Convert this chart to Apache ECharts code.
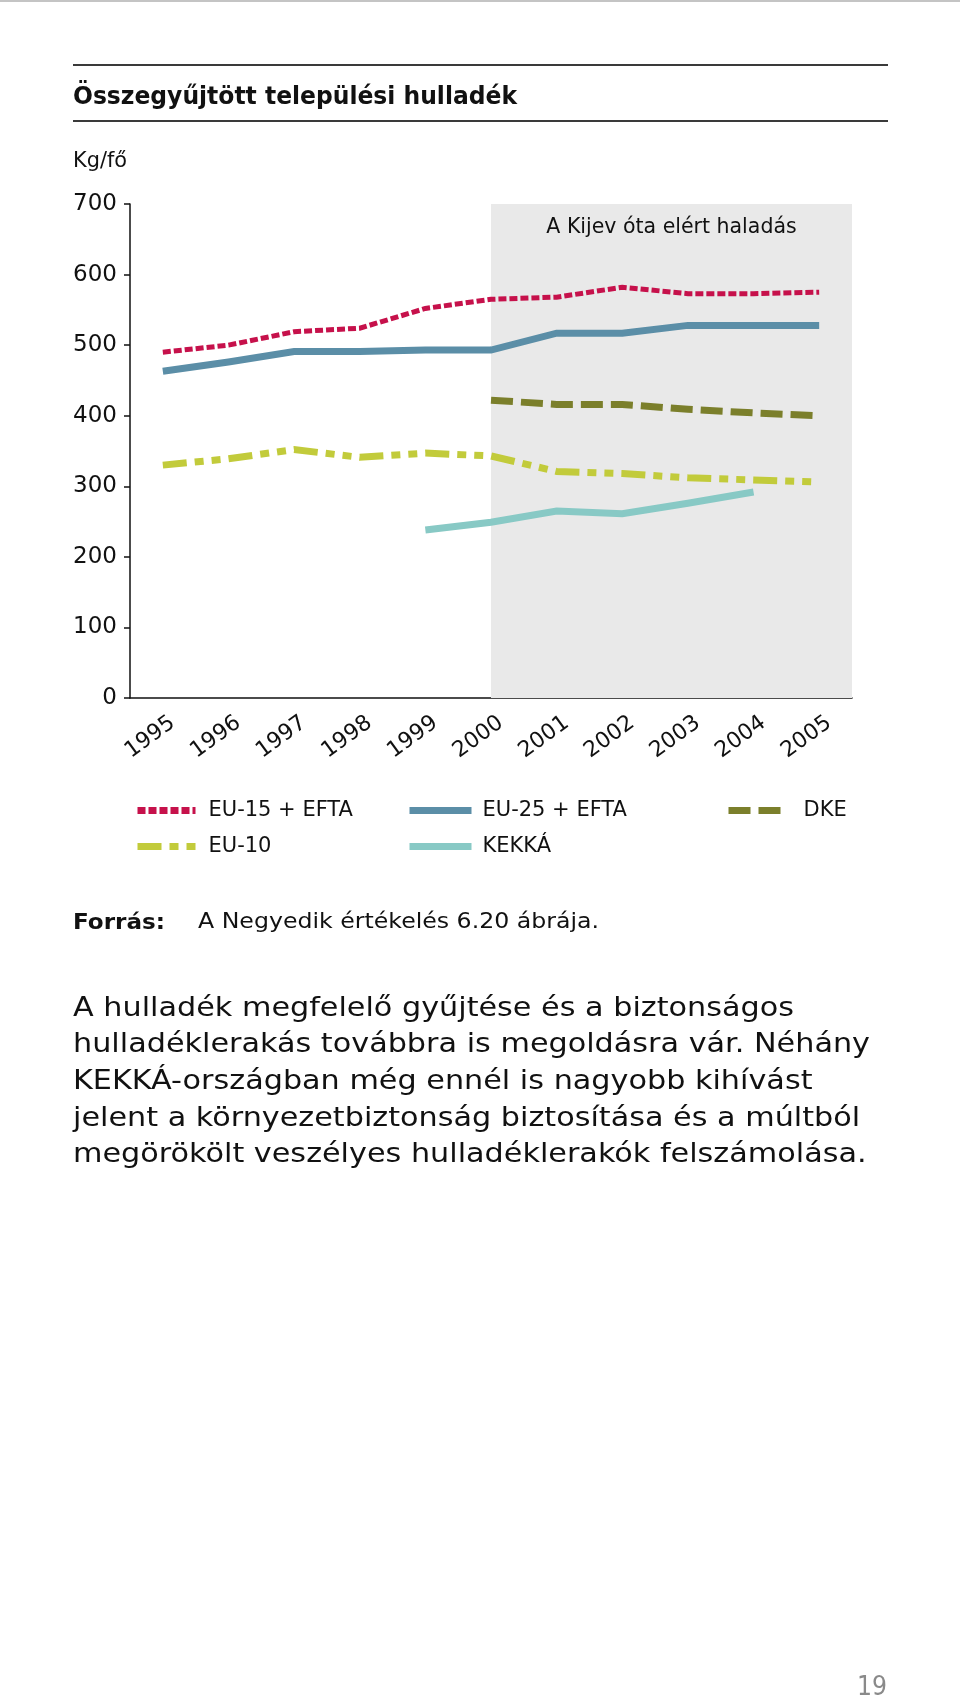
<!DOCTYPE html>
<html><head><meta charset="utf-8">
<script src="https://cdn.jsdelivr.net/npm/echarts@6/dist/echarts.min.js"></script>
<style>html,body{margin:0;padding:0;background:#fff}#c{width:960px;height:1702px}</style>
</head><body><div id="c"></div>
<script>
// ---- data ----
const years = ['1995','1996','1997','1998','1999','2000','2001','2002','2003','2004','2005'];
const eu15  = [490, 500, 519, 524, 552, 565, 568, 582, 573, 573, 575];
const eu25  = [463, 476, 491, 491, 493, 493, 517, 517, 528, 528, 528];
const dke   = [null, null, null, null, null, 422, 416, 416, 409, 404, 400];
const eu10  = [330, 339, 352, 341, 347, 343, 321, 318, 312, 309, 306];
const kekka = [null, null, null, null, 238, 249, 265, 261, 276, 292, null];
const seriesNames = ['EU-15 + EFTA', 'EU-25 + EFTA', 'DKE', 'EU-10', 'KEKKÁ'];
const progressStartYear = '2000';
const progressLabel = 'A Kijev óta elért haladás';
const titleText = 'Összegyűjtött települési hulladék';
const unitText = 'Kg/fő';
const sourceLabel = 'Forrás:';
const sourceText = 'A Negyedik értékelés 6.20 ábrája.';
const paragraph = [
  'A hulladék megfelelő gyűjtése és a biztonságos',
  'hulladéklerakás továbbra is megoldásra vár. Néhány',
  'KEKKÁ-országban még ennél is nagyobb kihívást',
  'jelent a környezetbiztonság biztosítása és a múltból',
  'megörökölt veszélyes hulladéklerakók felszámolása.'
];
const pageNumber = '19';

// ---- helpers ----
const F = "'DejaVu Sans', Verdana, sans-serif";
const mctx = document.createElement('canvas').getContext('2d');
function measure(str, size, weight) {
  mctx.font = weight + ' ' + size + 'px ' + F;
  return mctx.measureText(str).width;
}
function txt(str, x, y, size, weight, sx, color) {
  return {type: 'text', x: x, y: y, scaleX: sx, silent: true,
    style: {text: str, fontFamily: F, fontSize: size, fontWeight: weight, fill: color || '#111',
      align: 'left', verticalAlign: 'middle'}};
}
function fit(str, x, y, size, weight, target, color) {
  return txt(str, x, y, size, weight, target / measure(str, size, weight), color);
}

const pSize = 27;
const pScale = 797 / measure(paragraph[1], pSize, 'normal');
const graphics = [
  {type: 'rect', shape: {x: 0, y: 0, width: 960, height: 2}, style: {fill: '#c4c4c4'}, silent: true},
  {type: 'line', shape: {x1: 73, y1: 65, x2: 888, y2: 65}, style: {stroke: '#3a3a3a', lineWidth: 2}, silent: true},
  {type: 'line', shape: {x1: 73, y1: 121, x2: 888, y2: 121}, style: {stroke: '#3a3a3a', lineWidth: 2}, silent: true},
  fit(titleText, 73, 97.5, 25, 'bold', 444),
  fit(unitText, 73, 162, 21, 'normal', 54),
  fit(sourceLabel, 73, 923, 22, 'bold', 92),
  fit(sourceText, 198, 923, 21, 'normal', 401),
  fit(pageNumber, 857, 1688, 27, 'normal', 30, '#8a8a8a')
];
paragraph.forEach((line, i) => graphics.push(txt(line, 73, 1008.5 + i * 36.7, pSize, 'normal', pScale)));

function legend(name, left, top, w, pad) {
  return {data: [name], left: left, top: top, padding: 0, itemWidth: w, itemHeight: 14,
    selectedMode: false, itemStyle: {opacity: 0}, lineStyle: {width: 7},
    textStyle: {fontFamily: F, fontSize: 21, color: '#111', padding: [0, 0, 0, pad]}};
}

function lineSeries(name, data, color, width, dash) {
  return {name: name, type: 'line', data: data, symbol: 'none', z: 3,
    lineStyle: {color: color, width: width, type: dash || 'solid', cap: 'butt', join: 'miter'},
    itemStyle: {color: color}, connectNulls: false};
}

const startIdx = years.indexOf(progressStartYear) + 0.5;

const option = {
  animation: false,
  backgroundColor: '#fff',
  grid: {left: 130, top: 204, width: 722, height: 494, containLabel: false},
  xAxis: [
    {type: 'category', data: years, boundaryGap: true,
      axisLine: {lineStyle: {color: '#111', width: 1.5}},
      axisTick: {alignWithLabel: true, length: 7, lineStyle: {color: '#111', width: 1.5}},
      axisLabel: {rotate: 36, margin: 9, verticalAlign: 'top', lineHeight: 34,
        fontFamily: F, fontSize: 22, color: '#111', interval: 0}},
    {type: 'value', min: 0, max: years.length, show: false}
  ],
  yAxis: {type: 'value', min: 0, max: 700, interval: 100,
    axisLine: {show: true, lineStyle: {color: '#111', width: 1.5}},
    axisTick: {show: true, length: 6, lineStyle: {color: '#111', width: 1.5}},
    axisLabel: {margin: 13, fontFamily: F, fontSize: 23, color: '#111'},
    splitLine: {show: false}},
  legend: [
    legend(seriesNames[0], 134, 800, 58, 8),
    legend(seriesNames[1], 406, 800, 62, 6),
    legend(seriesNames[2], 725, 800, 59, 11),
    legend(seriesNames[3], 134, 836, 58, 8),
    legend(seriesNames[4], 406, 836, 62, 6)
  ],
  series: [
    {type: 'line', xAxisIndex: 1, data: [], z: 1, silent: true,
      markArea: {silent: true, itemStyle: {color: '#e9e9e9'},
        label: {show: true, position: 'insideTop', distance: 13, fontFamily: F, fontSize: 20.5, color: '#111'},
        data: [[{name: progressLabel, xAxis: startIdx, yAxis: 700}, {xAxis: years.length, yAxis: 0}]]}},
    lineSeries(seriesNames[0], eu15, '#c6114b', 5, [8, 3]),
    lineSeries(seriesNames[1], eu25, '#5b8ea7', 7),
    lineSeries(seriesNames[2], dke, '#7b7f2b', 7, [22, 8]),
    lineSeries(seriesNames[3], eu10, '#c2cb3b', 7, [24, 8, 9, 8, 9, 8]),
    lineSeries(seriesNames[4], kekka, '#88c9c5', 7)
  ],
  graphic: graphics
};
echarts.init(document.getElementById('c'), null, {renderer: 'canvas'}).setOption(option);
</script></body></html>
